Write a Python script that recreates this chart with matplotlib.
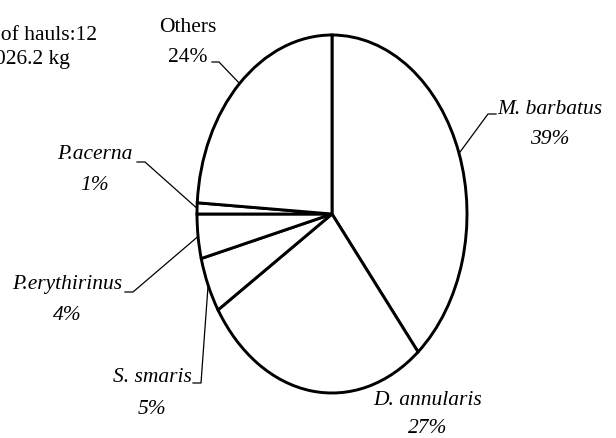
import matplotlib
matplotlib.use("Agg")
import matplotlib.pyplot as plt
import numpy as np

# ---- data ----
species = ["M. barbatus", "D. annularis", "S. smaris", "P.erythirinus", "P.acerna", "Others"]
shares = [39, 27, 5, 4, 1, 24]
italic_flags = [True, True, True, True, True, False]
info_lines = ["Number of hauls:12", "Total catch: 1026.2 kg"]

plt.rcParams["font.family"] = ["Liberation Serif", "DejaVu Serif"]

W, H = 616, 438
fig = plt.figure(figsize=(W / 100, H / 100), dpi=100)
ax = fig.add_axes([0, 0, 1, 1])

# ellipse geometry in pixels (layout)
CX, CY, RX, RY = 332, 214, 135, 179

wedges, _ = ax.pie(shares, startangle=90, counterclock=False,
                   colors=["white"] * len(shares),
                   wedgeprops=dict(edgecolor="black", linewidth=2.1))
ax.set_aspect("auto")
ax.set_xlim((0 - CX) / RX, (W - CX) / RX)
ax.set_ylim((CY - H) / RY, CY / RY)
ax.axis("off")


def to_data(px, py):
    return ((px - CX) / RX, (CY - py) / RY)


def fig_xy(px, py):
    return (px / W, 1 - py / H)


# label layout: (center x, name baseline, pct baseline, stub (x_text_side, x_pie_side, y) or None)
layout = {
    "M. barbatus": (550, 114, 144, (496, 488, 114)),
    "D. annularis": (428, 405, 433, None),
    "S. smaris": (152, 382, 414, (193, 201, 383)),
    "P.erythirinus": (67, 289, 320, (125, 133, 292)),
    "P.acerna": (95, 159, 190, (137, 145, 162)),
    "Others": (188, 32, 62, (212, 219, 62)),
}

FS = 15.5
for w, name, val, it in zip(wedges, species, shares, italic_flags):
    cx, nb, pb, stub = layout[name]
    style = "italic" if it else "normal"
    fig.text(*fig_xy(cx, nb), name, ha="center", va="baseline",
             fontsize=FS, style=style)
    fig.text(*fig_xy(cx, pb), f"{val}%", ha="center", va="baseline",
             fontsize=FS, style=style)
    if stub is not None:
        mid = np.deg2rad((w.theta1 + w.theta2) / 2)
        ex, ey = np.cos(mid) * w.r, np.sin(mid) * w.r
        a = to_data(stub[0], stub[2])
        b = to_data(stub[1], stub[2])
        ax.plot([a[0], b[0], ex], [a[1], b[1], ey], color="black",
                linewidth=0.9, clip_on=False, zorder=0.5)

fig.text(*fig_xy(97, 40), info_lines[0], ha="right", va="baseline", fontsize=FS)
fig.text(*fig_xy(70, 64), info_lines[1], ha="right", va="baseline", fontsize=FS)

fig.savefig("out.png", dpi=100)
